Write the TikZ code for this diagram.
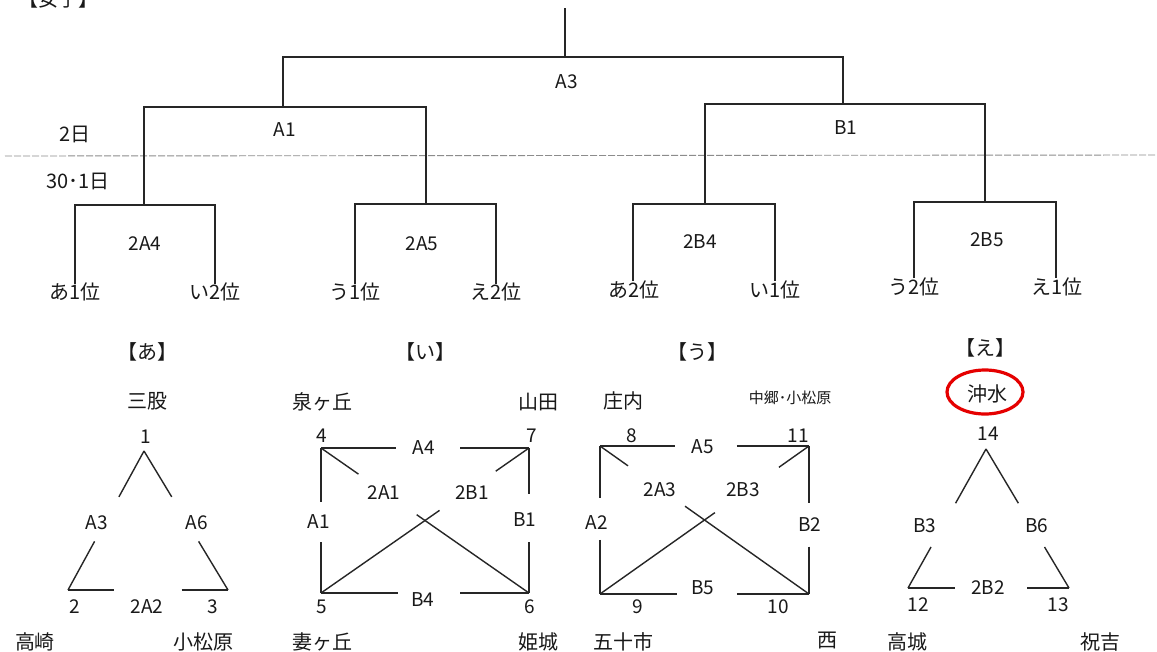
\documentclass[tikz,border=0pt]{standalone}
\usepackage{fontspec}
\setmainfont{Noto Sans CJK JP}
\usetikzlibrary{calc,shapes.geometric}
\tikzset{
  ln/.style={line width=1.4pt, draw=black!85},
  dashln/.style={line width=0.9pt, draw=black!45, dash pattern=on 7pt off 2pt},
  lbl/.style={inner sep=0pt, font=\fontsize{19}{19}\selectfont, text=black!90},
  jp/.style={inner sep=0pt, font=\fontsize{20}{20}\selectfont, text=black!90},
  jps/.style={inner sep=0pt, font=\fontsize{15}{15}\selectfont, text=black!90},
  ring/.style={ellipse, draw=red!90!black, line width=3.2pt, minimum width=76pt, minimum height=44pt, inner sep=0pt},
}
\begin{document}
\begin{tikzpicture}[x=1pt,y=-1pt]
\useasboundingbox (0,0) rectangle (1157,651);
\fill[white] (0,0) rectangle (1157,651);

% ---------- header ----------
\node[jp] (title) at (58,-1) {【女子】};
\node[jp] (day2) at (75,134) {2日};
\node[jp] (day1) at (78,181) {30･1日};
\coordinate (dl) at (5,156);
\coordinate (dr) at (1157,155);
\draw[dashln] (dl) -- (dr);

% ---------- knockout tree ----------
\coordinate (top) at (565,8);
\coordinate (jroot) at (565,57);
\coordinate (ja1) at (283,107);
\coordinate (jb1) at (843,104);
\coordinate (j2a4) at (144,205);
\coordinate (j2a5) at (426,204);
\coordinate (j2b4) at (705,204);
\coordinate (j2b5) at (985,202);
\coordinate (l1) at (75,284);
\coordinate (l2) at (215,284);
\coordinate (l3) at (355,284);
\coordinate (l4) at (496,284);
\coordinate (l5) at (633,281);
\coordinate (l6) at (775,281);
\coordinate (l7) at (914,278);
\coordinate (l8) at (1056,278);

\draw[ln] (top) -- (jroot);
\draw[ln] (ja1) |- (jroot) -| (jb1);
\draw[ln] (j2a4) |- (ja1) -| (j2a5);
\draw[ln] (j2b4) |- (jb1) -| (j2b5);
\draw[ln] (l1) |- (j2a4) -| (l2);
\draw[ln] (l3) |- (j2a5) -| (l4);
\draw[ln] (l5) |- (j2b4) -| (l6);
\draw[ln] (l7) |- (j2b5) -| (l8);

\node[lbl] (tA3) at (567,82) {A3};
\node[lbl] (tA1) at (285,130) {A1};
\node[lbl] (tB1) at (846,128) {B1};
\node[lbl] (t2A4) at (145,244) {2A4};
\node[lbl] (t2A5) at (422,244) {2A5};
\node[lbl] (t2B4) at (700,242) {2B4};
\node[lbl] (t2B5) at (987,240) {2B5};

\node[jp] (q1) at (75,292) {あ1位};
\node[jp] (q2) at (215,292) {い2位};
\node[jp] (q3) at (355,292) {う1位};
\node[jp] (q4) at (496,292) {え2位};
\node[jp] (q5) at (634,290) {あ2位};
\node[jp] (q6) at (775,290) {い1位};
\node[jp] (q7) at (914,287) {う2位};
\node[jp] (q8) at (1057,287) {え1位};

% ---------- group あ ----------
\coordinate (v1) at (144,451);
\coordinate (v2) at (68,590);
\coordinate (v3) at (228,590);
\draw[ln] (v1) -- ($(v1)!0.33!(v2)$) ($(v1)!0.65!(v2)$) -- (v2);
\draw[ln] (v1) -- ($(v1)!0.33!(v3)$) ($(v1)!0.65!(v3)$) -- (v3);
\draw[ln] (v2) -- ($(v2)!0.29!(v3)$) ($(v2)!0.71!(v3)$) -- (v3);
\node[jp] (ga) at (147,352) {【あ】};
\node[jp] (sa1) at (147,401) {三股};
\node[lbl] (n1) at (146,437) {1};
\node[lbl] (gA3) at (97,523) {A3};
\node[lbl] (gA6) at (197,523) {A6};
\node[lbl] (g2A2) at (147,607) {2A2};
\node[lbl] (n2) at (75,607) {2};
\node[lbl] (n3) at (213,607) {3};
\node[jp] (sa2) at (35,642) {高崎};
\node[jp] (sa3) at (203,642) {小松原};

% ---------- group い ----------
\coordinate (c4) at (321,448);
\coordinate (c7) at (529,448);
\coordinate (c5) at (321,593);
\coordinate (c6) at (529,593);
\draw[ln] (c4) -- ($(c4)!0.36!(c7)$) ($(c4)!0.67!(c7)$) -- (c7);
\draw[ln] (c4) -- ($(c4)!0.37!(c5)$) ($(c4)!0.65!(c5)$) -- (c5);
\draw[ln] (c7) -- ($(c7)!0.32!(c6)$) ($(c7)!0.65!(c6)$) -- (c6);
\draw[ln] (c5) -- ($(c5)!0.37!(c6)$) ($(c5)!0.67!(c6)$) -- (c6);
\draw[ln] (c4) -- ($(c4)!0.18!(c6)$) ($(c4)!0.46!(c6)$) -- (c6);
\draw[ln] (c7) -- ($(c7)!0.16!(c5)$) ($(c7)!0.43!(c5)$) -- (c5);
\node[jp] (gi) at (425,352) {【い】};
\node[jp] (si1) at (322,402) {泉ヶ丘};
\node[jp] (si2) at (538,402) {山田};
\node[lbl] (n4) at (322,436) {4};
\node[lbl] (n7) at (532,436) {7};
\node[lbl] (gA4) at (424,448) {A4};
\node[lbl] (g2A1) at (384,493) {2A1};
\node[lbl] (g2B1) at (472,493) {2B1};
\node[lbl] (gA1) at (319,522) {A1};
\node[lbl] (gB1) at (525,520) {B1};
\node[lbl] (gB4) at (423,600) {B4};
\node[lbl] (n5) at (322,607) {5};
\node[lbl] (n6) at (530,607) {6};
\node[jp] (si3) at (322,642) {妻ヶ丘};
\node[jp] (si4) at (538,642) {姫城};

% ---------- group う ----------
\coordinate (d8) at (600,446);
\coordinate (d11) at (809,446);
\coordinate (d9) at (600,594);
\coordinate (d10) at (809,594);
\draw[ln] (d8) -- ($(d8)!0.36!(d11)$) ($(d8)!0.655!(d11)$) -- (d11);
\draw[ln] (d8) -- ($(d8)!0.35!(d9)$) ($(d8)!0.635!(d9)$) -- (d9);
\draw[ln] (d11) -- ($(d11)!0.385!(d10)$) ($(d11)!0.68!(d10)$) -- (d10);
\draw[ln] (d9) -- ($(d9)!0.37!(d10)$) ($(d9)!0.655!(d10)$) -- (d10);
\draw[ln] (d8) -- ($(d8)!0.134!(d10)$) ($(d8)!0.407!(d10)$) -- (d10);
\draw[ln] (d11) -- ($(d11)!0.144!(d9)$) ($(d11)!0.45!(d9)$) -- (d9);
\node[jp] (gu) at (697,352) {【う】};
\node[jp] (su1) at (623,401) {庄内};
\node[jps] (su2) at (790,398) {中郷･小松原};
\node[lbl] (n8) at (632,436) {8};
\node[lbl] (n11) at (798,436) {11};
\node[lbl] (gA5) at (703,447) {A5};
\node[lbl] (g2A3) at (660,490) {2A3};
\node[lbl] (g2B3) at (743,490) {2B3};
\node[lbl] (gA2) at (597,523) {A2};
\node[lbl] (gB2) at (810,525) {B2};
\node[lbl] (gB5) at (703,588) {B5};
\node[lbl] (n9) at (638,607) {9};
\node[lbl] (n10) at (778,607) {10};
\node[jp] (su3) at (623,642) {五十市};
\node[jp] (su4) at (827,641) {西};

% ---------- group え ----------
\coordinate (e14) at (986,449);
\coordinate (e12) at (908,588);
\coordinate (e13) at (1069,588);
\draw[ln] (e14) -- ($(e14)!0.39!(e12)$) ($(e14)!0.705!(e12)$) -- (e12);
\draw[ln] (e14) -- ($(e14)!0.39!(e13)$) ($(e14)!0.705!(e13)$) -- (e13);
\draw[ln] (e12) -- ($(e12)!0.29!(e13)$) ($(e12)!0.74!(e13)$) -- (e13);
\node[jp] (ge) at (985,348) {【え】};
\node[ring] (ring) at (985,392) {};
\node[jp] (se1) at (987,394) {沖水};
\node[lbl] (n14) at (988,434) {14};
\node[lbl] (gB3) at (925,526) {B3};
\node[lbl] (gB6) at (1037,526) {B6};
\node[lbl] (g2B2) at (988,588) {2B2};
\node[lbl] (n12) at (918,605) {12};
\node[lbl] (n13) at (1058,605) {13};
\node[jp] (se2) at (907,642) {高城};
\node[jp] (se3) at (1100,642) {祝吉};
\end{tikzpicture}
\end{document}
